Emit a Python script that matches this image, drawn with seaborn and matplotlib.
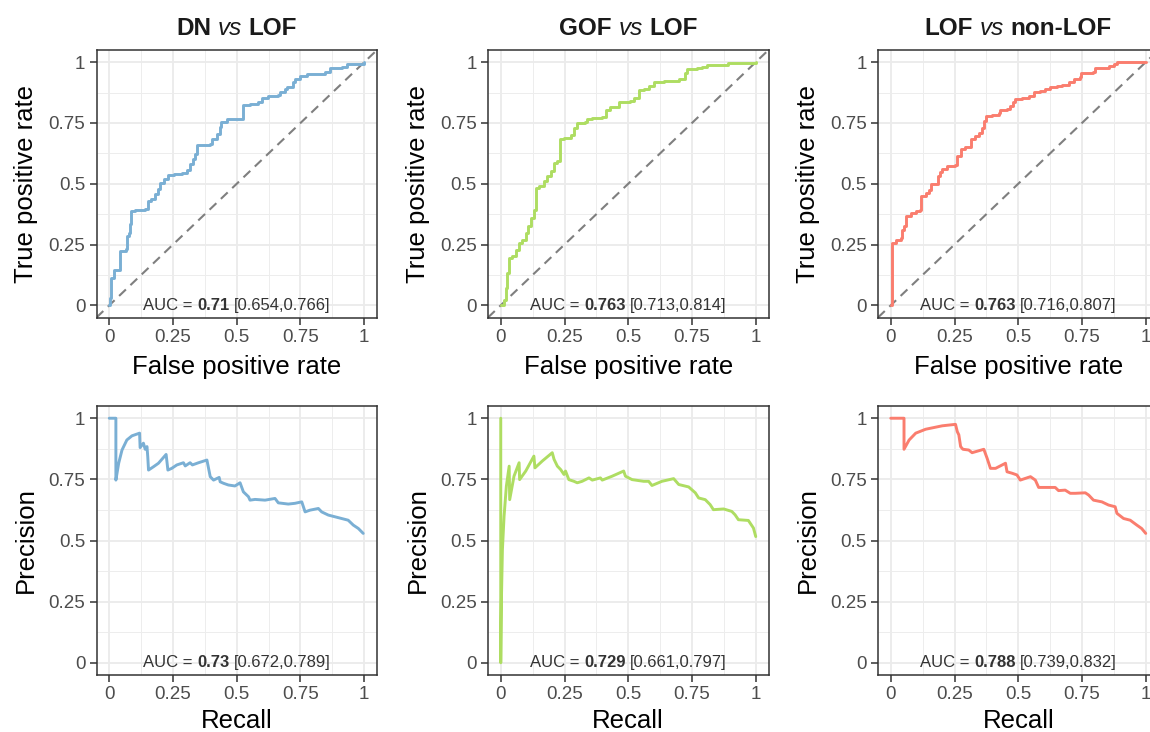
import matplotlib
matplotlib.use("Agg")
import matplotlib.pyplot as plt
import seaborn as sns
from matplotlib.offsetbox import TextArea, HPacker, AnnotationBbox

# ---- panel labels and summary statistics ----
groups = [("DN", "LOF"), ("GOF", "LOF"), ("LOF", "non-LOF")]
colors = ["#7AAFD4", "#AEDD62", "#FA7D6E"]
roc_auc = ["0.71", "0.763", "0.763"]
roc_ci = ["[0.654,0.766]", "[0.713,0.814]", "[0.716,0.807]"]
pr_auc = ["0.73", "0.729", "0.788"]
pr_ci = ["[0.672,0.789]", "[0.661,0.797]", "[0.739,0.832]"]
ticks = [0, 0.25, 0.5, 0.75, 1]
tick_labels = ["0", "0.25", "0.5", "0.75", "1"]

# ---- ROC curves (step points) ----
dn_fpr = [0, 0.004, 0.0065, 0.017, 0.043, 0.065, 0.069, 0.076, 0.080, 0.086, 0.102, 0.141,
          0.151, 0.164, 0.180, 0.193, 0.200, 0.213, 0.232, 0.252, 0.285, 0.304, 0.317, 0.330,
          0.337, 0.343, 0.396, 0.402, 0.422, 0.435, 0.439, 0.461, 0.525, 0.552, 0.585, 0.598,
          0.624, 0.663, 0.670, 0.689, 0.696, 0.722, 0.728, 0.748, 0.774, 0.846, 0.866, 0.911,
          0.931, 1.0]
dn_tpr = [0, 0.030, 0.113, 0.147, 0.223, 0.230, 0.285, 0.298, 0.333, 0.388, 0.392, 0.397,
          0.429, 0.439, 0.457, 0.477, 0.505, 0.519, 0.535, 0.539, 0.546, 0.556, 0.580, 0.601,
          0.622, 0.659, 0.663, 0.684, 0.704, 0.732, 0.755, 0.766, 0.824, 0.828, 0.838, 0.851,
          0.860, 0.865, 0.879, 0.890, 0.897, 0.917, 0.931, 0.942, 0.952, 0.959, 0.975, 0.979,
          0.993, 1.0]

gof_fpr = [0, 0.013, 0.020, 0.026, 0.033, 0.046, 0.059, 0.072, 0.085, 0.098, 0.108, 0.117,
           0.130, 0.137, 0.150, 0.169, 0.183, 0.196, 0.209, 0.222, 0.231, 0.248, 0.274, 0.287,
           0.300, 0.332, 0.339, 0.359, 0.398, 0.411, 0.430, 0.463, 0.508, 0.522, 0.541, 0.561,
           0.580, 0.600, 0.639, 0.698, 0.724, 0.730, 0.769, 0.789, 0.808, 0.893, 1.0]
gof_tpr = [0, 0.023, 0.071, 0.133, 0.195, 0.204, 0.229, 0.257, 0.270, 0.298, 0.325, 0.359,
           0.394, 0.483, 0.490, 0.510, 0.531, 0.551, 0.586, 0.593, 0.682, 0.689, 0.702, 0.730,
           0.750, 0.753, 0.767, 0.771, 0.775, 0.805, 0.815, 0.835, 0.840, 0.853, 0.885, 0.890,
           0.901, 0.918, 0.922, 0.929, 0.956, 0.973, 0.977, 0.981, 0.990, 0.997, 1.0]

lof_fpr = [0, 0.004, 0.0065, 0.020, 0.039, 0.043, 0.052, 0.061, 0.078, 0.098, 0.115, 0.117,
           0.137, 0.150, 0.156, 0.176, 0.186, 0.192, 0.202, 0.222, 0.252, 0.261, 0.274, 0.293,
           0.313, 0.332, 0.346, 0.356, 0.365, 0.374, 0.398, 0.424, 0.430, 0.456, 0.469, 0.478,
           0.489, 0.515, 0.541, 0.561, 0.587, 0.606, 0.626, 0.652, 0.671, 0.698, 0.717, 0.743,
           0.747, 0.795, 0.802, 0.854, 0.874, 0.887, 1.0]
lof_tpr = [0, 0.044, 0.257, 0.270, 0.277, 0.311, 0.325, 0.366, 0.380, 0.387, 0.394, 0.451,
           0.462, 0.476, 0.497, 0.501, 0.531, 0.547, 0.561, 0.575, 0.579, 0.613, 0.641, 0.652,
           0.684, 0.695, 0.709, 0.730, 0.757, 0.778, 0.781, 0.789, 0.802, 0.808, 0.819, 0.835,
           0.849, 0.853, 0.860, 0.877, 0.881, 0.888, 0.897, 0.901, 0.908, 0.918, 0.929, 0.940,
           0.956, 0.959, 0.977, 0.984, 0.994, 1.0, 1.0]

# ---- precision-recall curves ----
dn_rec = [0, 0.026, 0.026, 0.037, 0.050, 0.069, 0.089, 0.119, 0.121, 0.134, 0.141, 0.148,
          0.151, 0.154, 0.174, 0.193, 0.223, 0.230, 0.245, 0.265, 0.291, 0.298, 0.317, 0.326,
          0.350, 0.383, 0.396, 0.409, 0.431, 0.435, 0.448, 0.467, 0.493, 0.513, 0.526, 0.546,
          0.552, 0.572, 0.611, 0.650, 0.663, 0.702, 0.728, 0.755, 0.768, 0.787, 0.820, 0.833,
          0.859, 0.885, 0.911, 0.937, 0.957, 0.977, 0.996]
dn_prec = [1.0, 1.0, 0.747, 0.816, 0.870, 0.911, 0.928, 0.939, 0.880, 0.898, 0.873, 0.884,
           0.843, 0.788, 0.802, 0.816, 0.852, 0.788, 0.795, 0.809, 0.818, 0.805, 0.818, 0.809,
           0.818, 0.829, 0.761, 0.747, 0.758, 0.740, 0.734, 0.727, 0.723, 0.736, 0.699, 0.679,
           0.665, 0.668, 0.665, 0.672, 0.654, 0.649, 0.652, 0.658, 0.617, 0.624, 0.631, 0.617,
           0.604, 0.597, 0.590, 0.583, 0.563, 0.549, 0.529]

gof_rec = [0, 0, 0.0026, 0.0065, 0.013, 0.022, 0.033, 0.035, 0.052, 0.072, 0.074, 0.098,
           0.130, 0.134, 0.163, 0.202, 0.209, 0.222, 0.235, 0.248, 0.254, 0.267, 0.287, 0.300,
           0.319, 0.346, 0.359, 0.391, 0.398, 0.437, 0.482, 0.489, 0.515, 0.541, 0.561, 0.580,
           0.593, 0.632, 0.678, 0.698, 0.737, 0.763, 0.776, 0.802, 0.821, 0.834, 0.874, 0.906,
           0.919, 0.932, 0.971, 0.991, 1.0]
gof_prec = [1.0, 0.0, 0.256, 0.462, 0.599, 0.722, 0.804, 0.667, 0.763, 0.818, 0.749, 0.784,
            0.845, 0.797, 0.825, 0.859, 0.832, 0.804, 0.790, 0.770, 0.784, 0.749, 0.742, 0.736,
            0.742, 0.756, 0.747, 0.756, 0.747, 0.763, 0.784, 0.763, 0.749, 0.745, 0.742, 0.742,
            0.725, 0.742, 0.753, 0.729, 0.719, 0.695, 0.674, 0.667, 0.647, 0.626, 0.629, 0.619,
            0.605, 0.585, 0.582, 0.551, 0.516]

lof_rec = [0, 0.052, 0.052, 0.072, 0.098, 0.137, 0.202, 0.254, 0.261, 0.267, 0.274, 0.283,
           0.306, 0.319, 0.332, 0.365, 0.378, 0.391, 0.411, 0.450, 0.456, 0.476, 0.495, 0.508,
           0.528, 0.548, 0.567, 0.580, 0.619, 0.645, 0.658, 0.684, 0.704, 0.724, 0.763, 0.776,
           0.795, 0.828, 0.854, 0.880, 0.887, 0.913, 0.939, 0.965, 0.984, 1.0]
lof_prec = [1.0, 1.0, 0.873, 0.911, 0.939, 0.955, 0.969, 0.975, 0.945, 0.932, 0.884, 0.873,
            0.870, 0.859, 0.863, 0.873, 0.836, 0.795, 0.795, 0.816, 0.781, 0.775, 0.768, 0.747,
            0.754, 0.761, 0.747, 0.717, 0.717, 0.717, 0.704, 0.706, 0.693, 0.693, 0.695, 0.686,
            0.665, 0.658, 0.645, 0.638, 0.611, 0.590, 0.583, 0.563, 0.549, 0.529]

roc_x = [dn_fpr, gof_fpr, lof_fpr]
roc_y = [dn_tpr, gof_tpr, lof_tpr]
pr_x = [dn_rec, gof_rec, lof_rec]
pr_y = [dn_prec, gof_prec, lof_prec]

# ---- styling ----
sns.set_theme(style="white")
plt.rcParams["font.family"] = ["Liberation Sans", "DejaVu Sans"]

W, H = 1150, 732
fig = plt.figure(figsize=(W / 100, H / 100), dpi=100)
fig.patch.set_facecolor("white")

col_left = [96.5, 488.0, 878.0]
col_w = 280.5
rows = [(50.0, 317.5), (406.0, 675.0)]
xlab_base = [374.0, 728.0]


def style_axes(ax):
    ax.set_xlim(-0.05, 1.05)
    ax.set_ylim(-0.05, 1.05)
    ax.set_xticks(ticks)
    ax.set_xticklabels(tick_labels)
    ax.set_yticks(ticks)
    ax.set_yticklabels(tick_labels)
    ax.set_xticks([0.125, 0.375, 0.625, 0.875], minor=True)
    ax.set_yticks([0.125, 0.375, 0.625, 0.875], minor=True)
    ax.grid(True, which="major", color="#EBEBEB", lw=1.3)
    ax.grid(True, which="minor", color="#EDEDED", lw=0.7)
    ax.set_axisbelow(True)
    ax.tick_params(which="major", direction="out", length=5, width=1.1,
                   color="#333333", labelcolor="#4D4D4D", labelsize=13.5, pad=3,
                   bottom=True, left=True)
    ax.tick_params(which="minor", length=0)
    for s in ax.spines.values():
        s.set_color("#333333")
        s.set_linewidth(1.1)


def auc_label(ax, value, ci):
    props = dict(fontsize=12, color="#333333")
    parts = [TextArea("AUC =", textprops=props),
             TextArea(value, textprops=dict(props, fontweight="bold")),
             TextArea(ci, textprops=props)]
    pack = HPacker(children=parts, pad=0, sep=3.3, align="baseline")
    ab = AnnotationBbox(pack, (0.5, 0.0), xycoords="data", frameon=False,
                        box_alignment=(0.5, 0.5), pad=0, annotation_clip=False)
    ax.add_artist(ab)


for j in range(3):
    for i, (top, bottom) in enumerate(rows):
        ax = fig.add_axes([col_left[j] / W, 1 - bottom / H, col_w / W, (bottom - top) / H])
        style_axes(ax)
        if i == 0:
            ax.axline((0, 0), (1, 1), color="#7F7F7F", lw=1.5, ls=(0, (4.5, 3)), zorder=1)
            sns.lineplot(x=roc_x[j], y=roc_y[j], ax=ax, color=colors[j], lw=2.1,
                         estimator=None, sort=False, drawstyle="steps-post", zorder=3)
            auc_label(ax, roc_auc[j], roc_ci[j])
            ax.set_xlabel("False positive rate")
            ax.set_ylabel("True positive rate")
            # title with italic "vs"
            a, b = groups[j]
            tp = dict(fontsize=17.5, color="#1A1A1A")
            parts = [TextArea(a, textprops=dict(tp, fontweight="bold")),
                     TextArea("vs", textprops=dict(tp, fontstyle="italic")),
                     TextArea(b, textprops=dict(tp, fontweight="bold"))]
            pack = HPacker(children=parts, pad=0, sep=4.8, align="baseline")
            tb = AnnotationBbox(pack, (0.5, 1.0), xycoords="axes fraction",
                                xybox=(0, 7.0), boxcoords="offset points",
                                frameon=False, box_alignment=(0.5, 0.0), pad=0,
                                annotation_clip=False)
            ax.add_artist(tb)
        else:
            sns.lineplot(x=pr_x[j], y=pr_y[j], ax=ax, color=colors[j], lw=2.1,
                         estimator=None, sort=False, zorder=3)
            auc_label(ax, pr_auc[j], pr_ci[j])
            ax.set_xlabel("Recall")
            ax.set_ylabel("Precision")
        h = bottom - top
        for lab in (ax.xaxis.label, ax.yaxis.label):
            lab.set_fontsize(18.5)
            lab.set_color("black")
            lab.set_va("baseline")
        ax.xaxis.set_label_coords(0.5, -(xlab_base[i] - bottom) / h)
        ax.yaxis.set_label_coords((33.0 - 96.5) / col_w, 0.5)

fig.savefig("out.png", dpi=100, facecolor="white")
